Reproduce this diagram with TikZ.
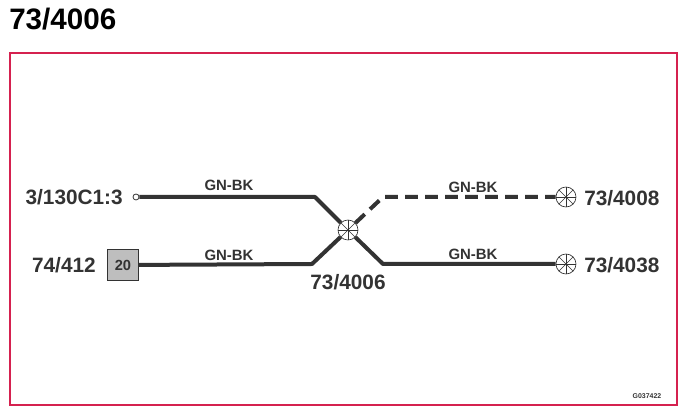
\documentclass[tikz,border=0pt]{standalone}
\usepackage{fontspec}
\setmainfont{Liberation Sans}
\definecolor{wirecol}{HTML}{333333}
\definecolor{framecol}{HTML}{D5214F}
\definecolor{boxcol}{HTML}{BEBEBE}
\begin{document}
\begin{tikzpicture}[x=0.75pt,y=-0.75pt,
  wire/.style={draw=wirecol,line width=3pt,line join=round},
  dashwire/.style={wire,dash pattern=on 9.5pt off 5.5pt},
  colorlabel/.style={font=\bfseries\fontsize{11.2}{13}\selectfont,text=wirecol,inner sep=0pt},
  reflabel/.style={font=\bfseries\fontsize{15.6}{18}\selectfont,text=wirecol,inner sep=0pt},
  splice/.style={circle,draw=wirecol,line width=0.5pt,fill=white,minimum size=15pt,inner sep=0pt,
    path picture={
      \foreach \a in {0,45,...,315}
        \draw[wirecol,line width=0.35pt] (path picture bounding box.center) -- +(\a:10pt);
    }},
  terminal/.style={circle,draw=wirecol,line width=0.6pt,fill=white,minimum size=4.5pt,inner sep=0pt},
  pinbox/.style={draw=wirecol,line width=0.5pt,fill=boxcol,minimum size=23.5pt,inner sep=0pt,
    font=\bfseries\fontsize{11}{12}\selectfont,text=wirecol}
]
\useasboundingbox (0,0) rectangle (687,413);
\node[anchor=west,inner sep=0pt,font=\bfseries\fontsize{22.2}{26}\selectfont,text=black] (title) at (9,19.5) {73/4006};
\node[draw=framecol,line width=1.6pt,minimum width=500.5pt,minimum height=264pt,inner sep=0pt] (frame) at (343.5,229) {};

\node[splice] (hub) at (348,230) {};
\node[splice] (endA) at (566,197) {};
\node[splice] (endB) at (566,264) {};
\node[terminal] (term) at (136,197) {};
\node[pinbox] (pin) at (123,265) {20};

\coordinate (bendA) at (315,197);
\coordinate (bendB) at (312,264);
\coordinate (bendC) at (383,197);
\coordinate (bendD) at (383,264);

\draw[wire] (term) -- (bendA) -- (hub);
\draw[wire] (pin) -- (bendB) -- (hub);
\draw[dashwire] (hub) -- (bendC) -- (endA);
\draw[wire] (hub) -- (bendD) -- (endB);

\node[reflabel,anchor=east] (lblA) at (123,197) {3/130C1:3};
\node[reflabel,anchor=east] (lblB) at (96,265) {74/412};
\node[reflabel,anchor=west] (lblC) at (584,198) {73/4008};
\node[reflabel,anchor=west] (lblD) at (584,265) {73/4038};
\node[reflabel] (lblE) at (348,282) {73/4006};
\node[colorlabel] (w1) at (229,185.5) {GN-BK};
\node[colorlabel] (w2) at (229,255) {GN-BK};
\node[colorlabel] (w3) at (473,187) {GN-BK};
\node[colorlabel] (w4) at (473,254) {GN-BK};
\node[font=\bfseries\fontsize{5.2}{6}\selectfont,text=wirecol,inner sep=0pt] (code) at (647,396) {G037422};
\end{tikzpicture}
\end{document}
